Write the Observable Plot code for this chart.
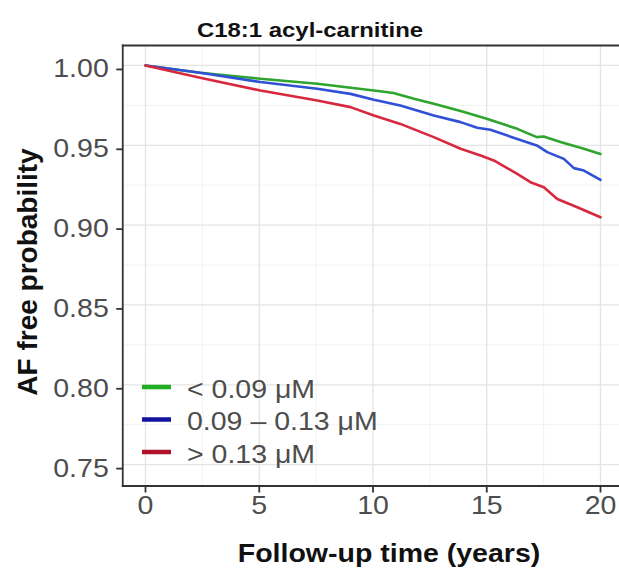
<!DOCTYPE html>
<html>
<head>
<meta charset="utf-8">
<script src="https://cdn.jsdelivr.net/npm/d3@7"></script>
<script src="https://cdn.jsdelivr.net/npm/@observablehq/plot@0.6"></script>
<style>
  html, body { margin: 0; padding: 0; background: white; overflow: hidden; }
  #chart { position: relative; width: 619px; height: 569px; }
</style>
</head>
<body>
<div id="chart"></div>
<script>
// ---- Data ----
const titleText = "C18:1 acyl-carnitine";
const xLabel = "Follow-up time (years)";
const yLabel = "AF free probability";

const groupNames = ["< 0.09 μM", "0.09 – 0.13 μM", "> 0.13 μM"];
const lineColors = ["#2ea52e", "#3050d6", "#d8283e"];
const keyColors  = ["#1fae1f", "#12129e", "#b0122c"];

const lowTime  = [0, 2.4, 5.05, 7.55, 10.04, 10.9, 11.8, 12.67, 13.85, 15.0, 16.34, 17.2, 17.5, 18.24, 19.27, 20.0];
const lowSurv  = [1.0, 0.9954, 0.9917, 0.9885, 0.9843, 0.9827, 0.9791, 0.976, 0.9714, 0.9666, 0.9603, 0.9551, 0.9555, 0.952, 0.9478, 0.9446];

const midTime  = [0, 2.4, 5.05, 7.55, 9.01, 10.04, 11.2, 12.67, 13.85, 14.58, 15.16, 16.34, 17.2, 17.66, 18.39, 18.83, 19.27, 20.0];
const midSurv  = [1.0, 0.9954, 0.9896, 0.9854, 0.9822, 0.9785, 0.9749, 0.9687, 0.9645, 0.961, 0.9597, 0.954, 0.9499, 0.9457, 0.9415, 0.9357, 0.9342, 0.9283];

const highTime = [0, 2.4, 5.05, 7.55, 9.01, 10.04, 11.2, 12.67, 13.85, 14.73, 15.31, 16.34, 16.92, 17.51, 18.1, 18.98, 20.0];
const highSurv = [1.0, 0.9923, 0.9843, 0.978, 0.9739, 0.9687, 0.9634, 0.9551, 0.9478, 0.9436, 0.9405, 0.9321, 0.9269, 0.9237, 0.9164, 0.9112, 0.9049];

const xTicks = [0, 5, 10, 15, 20];
const xMinor = [2.5, 7.5, 12.5, 17.5];
const yTicks = [0.75, 0.80, 0.85, 0.90, 0.95, 1.00];
const yMinor = [0.775, 0.825, 0.875, 0.925, 0.975];

// ---- Build table ----
const seriesT = [lowTime, midTime, highTime];
const seriesS = [lowSurv, midSurv, highSurv];
const rows = groupNames.flatMap((g, i) => seriesT[i].map((t, j) => ({group: g, t, s: seriesS[i][j]})));

const W = 619, H = 569;
const panelLeft = 122.25, panelTop = 45, panelBottom = 485.5;
const fontFam = "'Liberation Sans', Arial, Helvetica, sans-serif";
const borderCol = "#333333";

const chartSvg = Plot.plot({
  width: W,
  height: H,
  marginLeft: panelLeft,
  marginRight: 0,
  marginTop: panelTop,
  marginBottom: H - panelBottom,
  style: {fontFamily: fontFam, background: "white", overflow: "hidden"},
  x: {domain: [-1, 21], range: [panelLeft, 622.75]},
  y: {domain: [0.7366, 1.0125], range: [panelBottom, panelTop]},
  color: {domain: groupNames, range: lineColors},
  marks: [
    Plot.ruleX(xMinor, {stroke: "#f1f1f1", strokeWidth: 0.9}),
    Plot.ruleY(yMinor, {stroke: "#f1f1f1", strokeWidth: 0.9}),
    Plot.ruleX(xTicks, {stroke: "#e4e4e4", strokeWidth: 1.3}),
    Plot.ruleY(yTicks, {stroke: "#e4e4e4", strokeWidth: 1.3}),
    Plot.line(rows, {x: "t", y: "s", z: "group", stroke: "group", strokeWidth: 2.6, strokeLinejoin: "round"}),
    Plot.frame({anchor: "left", stroke: borderCol, strokeWidth: 1.8}),
    Plot.frame({anchor: "bottom", stroke: borderCol, strokeWidth: 1.8}),
    Plot.frame({anchor: "top", stroke: borderCol, strokeWidth: 1.8}),
    Plot.axisX(xTicks, {tickSize: 7, tickPadding: 3, fontSize: 25, stroke: borderCol, strokeWidth: 1.8, fill: "#4d4d4d", label: null}),
    Plot.axisY(yTicks, {tickSize: 6, tickPadding: 8, fontSize: 25, tickFormat: d3.format(".2f"), stroke: borderCol, strokeWidth: 1.8, fill: "#4d4d4d", label: null, dy: 4})
  ]
});

document.getElementById("chart").appendChild(chartSvg);
const svgSel = d3.select(chartSvg);

// Title
svgSel.append("text")
  .attr("class", "stretch")
  .attr("x", 310).attr("y", 36.5)
  .attr("text-anchor", "middle")
  .attr("font-family", fontFam).attr("font-weight", "bold").attr("font-size", 21)
  .attr("fill", "#111")
  .text(titleText);

// X axis title
svgSel.append("text")
  .attr("class", "stretch")
  .attr("x", 389).attr("y", 562)
  .attr("text-anchor", "middle")
  .attr("font-family", fontFam).attr("font-weight", "bold").attr("font-size", 25)
  .attr("fill", "#111")
  .text(xLabel);

// Y axis title
svgSel.append("text")
  .attr("transform", "translate(37,272) rotate(-90)")
  .attr("text-anchor", "middle")
  .attr("font-family", fontFam).attr("font-weight", "bold").attr("font-size", 28)
  .attr("fill", "#111")
  .text(yLabel);

// Legend (inside panel, bottom-left)
const legendG = svgSel.append("g");
const legY0 = 387, legStep = 32.5;
groupNames.forEach((g, i) => {
  const yy = legY0 + i * legStep;
  legendG.append("line")
    .attr("x1", 142).attr("x2", 171).attr("y1", yy).attr("y2", yy)
    .attr("stroke", keyColors[i]).attr("stroke-width", 4.5);
  legendG.append("text")
    .attr("class", "stretch")
    .attr("x", 187).attr("y", yy).attr("dy", "0.43em")
    .attr("text-anchor", "start")
    .attr("font-family", fontFam).attr("font-size", 25)
    .attr("fill", "#4d4d4d")
    .text(g);
});

// Horizontal stretch of text to match the reference's aspect
chartSvg.querySelectorAll('g[aria-label$="tick label"] text').forEach(t => t.classList.add("stretch"));
chartSvg.querySelectorAll("text.stretch").forEach(t => {
  const len = t.getComputedTextLength();
  if (len > 0) {
    t.setAttribute("textLength", (len * 1.14).toFixed(1));
    t.setAttribute("lengthAdjust", "spacingAndGlyphs");
  }
});
</script>
</body>
</html>
